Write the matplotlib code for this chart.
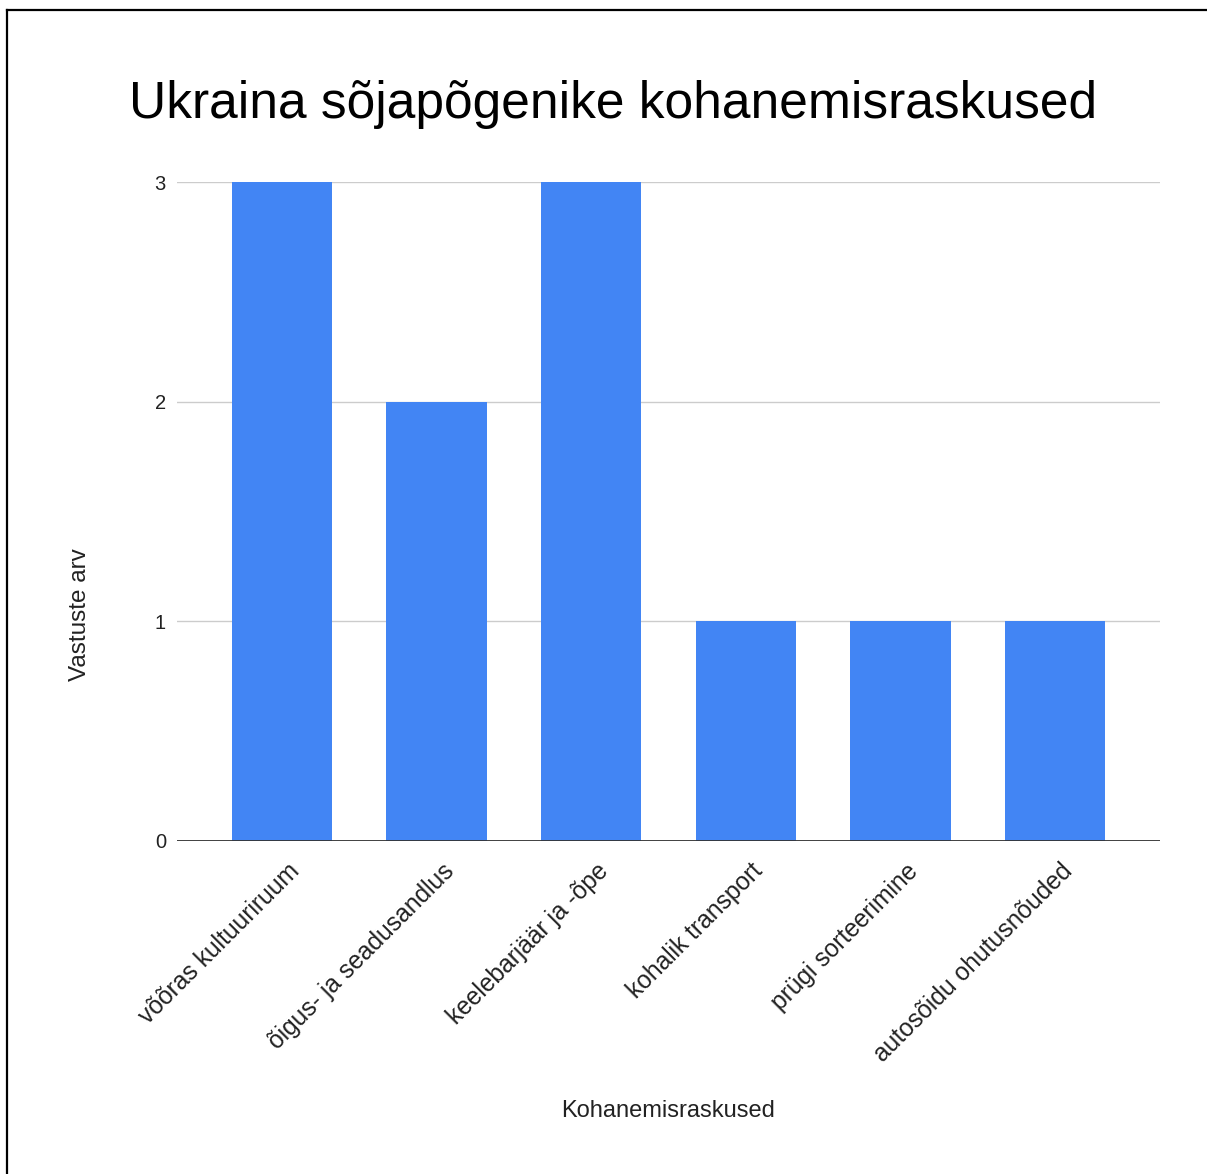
import matplotlib
matplotlib.use("Agg")
import matplotlib.pyplot as plt
import matplotlib.transforms as mtransforms
from matplotlib.lines import Line2D

categories = ["võõras kultuuriruum", "õigus- ja seadusandlus", "keelebarjäär ja -õpe",
              "kohalik transport", "prügi sorteerimine", "autosõidu ohutusnõuded"]
values = [3, 2, 3, 1, 1, 1]
yticks = [0, 1, 2, 3]
title = "Ukraina sõjapõgenike kohanemisraskused"
xlabel = "Kohanemisraskused"
ylabel = "Vastuste arv"

plt.rcParams['font.family'] = ['Liberation Sans', 'DejaVu Sans']

W, H, DPI = 1207, 1174, 100
fig = plt.figure(figsize=(W / DPI, H / DPI), dpi=DPI)
fig.patch.set_facecolor("white")

left, right, top, bottom = 177, 1160, 182, 841
ax = fig.add_axes([left / W, 1 - bottom / H, (right - left) / W, (bottom - top) / H])

x = list(range(len(categories)))
ax.bar(x, values, width=0.65, color="#4285F4", zorder=3)

ax.set_xlim(-0.68, len(categories) - 1 + 0.68)
ax.set_ylim(0, 3)
ax.set_yticks(yticks)
ax.set_yticklabels([str(t) for t in yticks])
ax.yaxis.grid(True, color="#cccccc", linewidth=1.0, zorder=0)
ax.axhline(0, color="#333333", linewidth=1.3, zorder=4)
for s in ax.spines.values():
    s.set_visible(False)
ax.tick_params(axis="y", length=0, pad=8, labelsize=14.5, labelcolor="#222222")
ax.tick_params(axis="x", length=0, pad=0, labelsize=17.7, labelcolor="#222222")

ax.set_xticks(x)
ax.set_xticklabels(categories, rotation=45, ha="right", va="top", rotation_mode="anchor")
offset = mtransforms.ScaledTranslation(5 / DPI, -18 / DPI, fig.dpi_scale_trans)
for lbl in ax.get_xticklabels():
    lbl.set_transform(lbl.get_transform() + offset)

fig.text(613 / W, 1 - 118 / H, title, ha="center", va="baseline", fontsize=37.1, color="#000000")
fig.text(668 / W, 1 - 1117 / H, xlabel, ha="center", va="baseline", fontsize=17, color="#222222")
fig.text(80 / W, 1 - 615 / H, ylabel, ha="center", va="center", rotation=90, fontsize=17.5, color="#222222")

# screenshot border (top and left edges)
fig.add_artist(Line2D([7 / W, 1], [1 - 10 / H, 1 - 10 / H], transform=fig.transFigure, color="black", linewidth=1.6))
fig.add_artist(Line2D([7 / W, 7 / W], [0, 1 - 10 / H], transform=fig.transFigure, color="black", linewidth=1.6))

fig.savefig("out.png", dpi=DPI)
